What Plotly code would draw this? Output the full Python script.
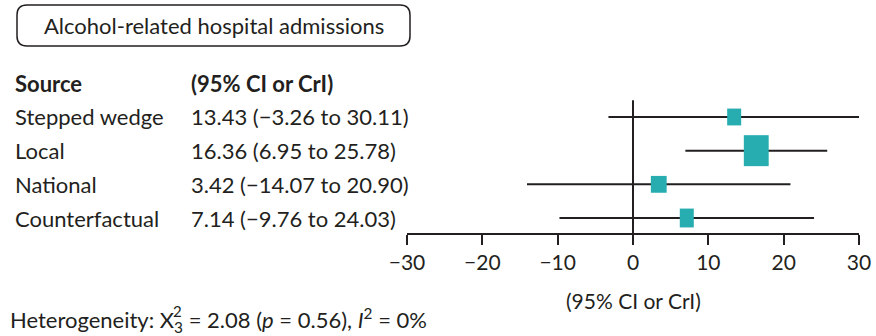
import plotly.graph_objects as go

# Forest plot: alcohol-related hospital admissions
sources = ["Stepped wedge", "Local", "National", "Counterfactual"]
estimates = [13.43, 16.36, 3.42, 7.14]
ci_low = [-3.26, 6.95, -14.07, -9.76]
ci_high = [30.11, 25.78, 20.90, 24.03]
# box size (half-width in x units, half-height in row units) reflecting weight
box_half_w = [0.93, 1.65, 1.05, 0.93]
box_half_h = [0.25, 0.46, 0.25, 0.28]
tick_vals = [-30, -20, -10, 0, 10, 20, 30]
tick_text = ["\u221230", "\u221220", "\u221210", "0", "10", "20", "30"]

W, H = 876, 336
FONT = "Lato"
INK = "#231f20"
TEAL = "#27adb0"
TXT = 22

rows = list(range(len(sources)))

fig = go.Figure()

# confidence interval whiskers
for r, lo, hi in zip(rows, ci_low, ci_high):
    fig.add_trace(go.Scatter(x=[lo, hi], y=[r, r], mode="lines",
                             line=dict(color=INK, width=2), hoverinfo="skip",
                             showlegend=False))

# line of no effect
fig.add_shape(type="line", xref="x", yref="y", x0=0, x1=0, y0=-0.5, y1=3.475,
              line=dict(color=INK, width=2), layer="below")

# point-estimate boxes
for r, est, hw, hh in zip(rows, estimates, box_half_w, box_half_h):
    fig.add_shape(type="rect", xref="x", yref="y",
                  x0=est - hw, x1=est + hw, y0=r - hh, y1=r + hh,
                  fillcolor=TEAL, line=dict(width=0), layer="above")

# table columns
fig.add_annotation(x=13 / W, y=-1, xref="paper", yref="y", text="<b>Source</b>",
                   showarrow=False, xanchor="left", yanchor="middle",
                   font=dict(family=FONT, size=TXT, color=INK))
fig.add_annotation(x=189 / W, y=-1, xref="paper", yref="y", text="<b>(95% CI or CrI)</b>",
                   showarrow=False, xanchor="left", yanchor="middle",
                   font=dict(family=FONT, size=TXT, color=INK))
for r, s, est, lo, hi in zip(rows, sources, estimates, ci_low, ci_high):
    fig.add_annotation(x=13 / W, y=r, xref="paper", yref="y", text=s,
                       showarrow=False, xanchor="left", yanchor="middle",
                       font=dict(family=FONT, size=TXT, color=INK))
    lab = f"{est:.2f} ({lo:.2f} to {hi:.2f})".replace("-", "\u2212")
    fig.add_annotation(x=189 / W, y=r, xref="paper", yref="y", text=lab,
                       showarrow=False, xanchor="left", yanchor="middle",
                       font=dict(family=FONT, size=TXT, color=INK))

# title box
x0, x1, y0, y1, rad = 17, 410, 5, 46, 10
def px(x):
    return x / W
def py(y):
    return 1 - y / H
path = (f"M {px(x0 + rad)},{py(y0)} L {px(x1 - rad)},{py(y0)} "
        f"Q {px(x1)},{py(y0)} {px(x1)},{py(y0 + rad)} L {px(x1)},{py(y1 - rad)} "
        f"Q {px(x1)},{py(y1)} {px(x1 - rad)},{py(y1)} L {px(x0 + rad)},{py(y1)} "
        f"Q {px(x0)},{py(y1)} {px(x0)},{py(y1 - rad)} L {px(x0)},{py(y0 + rad)} "
        f"Q {px(x0)},{py(y0)} {px(x0 + rad)},{py(y0)} Z")
fig.add_shape(type="path", xref="paper", yref="paper", path=path,
              line=dict(color=INK, width=1.5))
fig.add_annotation(x=(x0 + x1) / 2 / W, y=py((y0 + y1) / 2), xref="paper", yref="paper",
                   text="Alcohol-related hospital admissions", showarrow=False,
                   xanchor="center", yanchor="middle",
                   font=dict(family=FONT, size=TXT, color=INK))

# axis title
fig.add_annotation(x=633 / W, y=py(300), xref="paper", yref="paper",
                   text="(95% CI or CrI)", showarrow=False,
                   xanchor="center", yanchor="middle",
                   font=dict(family=FONT, size=21, color=INK))

# heterogeneity note (chi-square with stacked degrees of freedom and power)
fig.add_annotation(x=8 / W, y=py(320), xref="paper", yref="paper",
                   text="Heterogeneity: X<sub>3</sub> = 2.08 (<i>p</i> = 0.56), <i>I</i><sup>2</sup> = 0%",
                   showarrow=False, xanchor="left", yanchor="middle",
                   font=dict(family=FONT, size=TXT, color=INK))
fig.add_annotation(x=171 / W, y=py(311), xref="paper", yref="paper",
                   text="2", showarrow=False, xanchor="left", yanchor="middle",
                   font=dict(family=FONT, size=15, color=INK))

fig.update_layout(
    width=W, height=H, margin=dict(l=0, r=0, t=0, b=0, autoexpand=False),
    paper_bgcolor="white", plot_bgcolor="white",
    xaxis=dict(domain=[407 / W, 859 / W], range=[-30, 30], tickvals=tick_vals,
               ticktext=tick_text, ticks="outside", ticklen=10, tickwidth=2,
               tickcolor=INK, showline=True, linecolor=INK, linewidth=2,
               showgrid=False, zeroline=False, anchor="free", position=1 - 234 / H,
               tickfont=dict(family=FONT, size=21, color=INK), automargin=False),
    yaxis=dict(domain=[0, 1], range=[6.505, -3.475], visible=False,
               showgrid=False, zeroline=False, automargin=False),
)

fig.write_html("out.html")
